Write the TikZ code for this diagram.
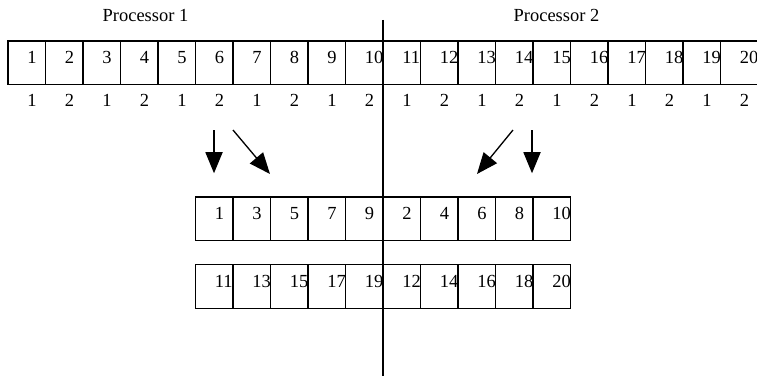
\documentclass[tikz,border=0pt]{standalone}
\usepackage{fontspec}
\setmainfont{Liberation Serif}
\usetikzlibrary{arrows.meta}

\tikzset{
  cell/.style={draw, line width=1.1pt, minimum width=1cm, minimum height=1.17cm,
    inner sep=0pt, outer sep=0pt, anchor=north west},
  num/.style={anchor=base west, inner sep=0pt, font=\fontsize{14}{16}\selectfont},
  bigarrow/.style={line width=1pt, -{Triangle[length=16pt,width=13pt]}}
}

\begin{document}
\begin{tikzpicture}
    % Offsets of the numbers inside a cell
    \def\digitx{0.51}
    \def\digity{0.613}
    \useasboundingbox (0,0) rectangle (20.187,-10.027);

    % Processor labels
    \node[num, anchor=base] (proc1) at (3.88,-0.58) {Processor 1};
    \node[num, anchor=base] (proc2) at (14.84,-0.58) {Processor 2};

    % Divider between the two processors
    \coordinate (divtop) at (10.213,-0.53);
    \coordinate (divbot) at (10.213,-10.03);
    \draw[line width=1pt] (divtop) -- (divbot);

    % Original array
    \foreach \i in {1,...,20} {
        \node[cell] (a\i) at (\i-0.787,-1.09) {};
        \node[num] (an\i) at ([shift={(\digitx,-\digity)}]a\i.north west) {\i};
    }

    % Which processor each entry goes to
    \foreach \i in {1,...,20} {
        \pgfmathtruncatemacro\p{2-mod(\i,2)}
        \node[num] (lab\i) at (\i-0.787+\digitx,-2.853) {\p};
    }

    % Arrows
    \coordinate (s1) at (5.707,-3.467);  \coordinate (e1) at (5.707,-4.62);
    \coordinate (s2) at (6.213,-3.467);  \coordinate (e2) at (7.2,-4.64);
    \coordinate (s3) at (13.68,-3.467);  \coordinate (e3) at (12.72,-4.64);
    \coordinate (s4) at (14.187,-3.467); \coordinate (e4) at (14.187,-4.62);
    \foreach \k in {1,...,4}
        \draw[bigarrow] (s\k) -- (e\k);

    % Reordered array, first half
    \foreach \v [count=\k] in {1,3,5,7,9,2,4,6,8,10} {
        \node[cell] (b\k) at (\k+4.213,-5.25) {};
        \node[num] (bn\k) at ([shift={(\digitx,-\digity)}]b\k.north west) {\v};
    }

    % Reordered array, second half
    \foreach \v [count=\k] in {11,13,15,17,19,12,14,16,18,20} {
        \node[cell] (c\k) at (\k+4.213,-7.05) {};
        \node[num] (cn\k) at ([shift={(\digitx,-\digity)}]c\k.north west) {\v};
    }
\end{tikzpicture}
\end{document}
